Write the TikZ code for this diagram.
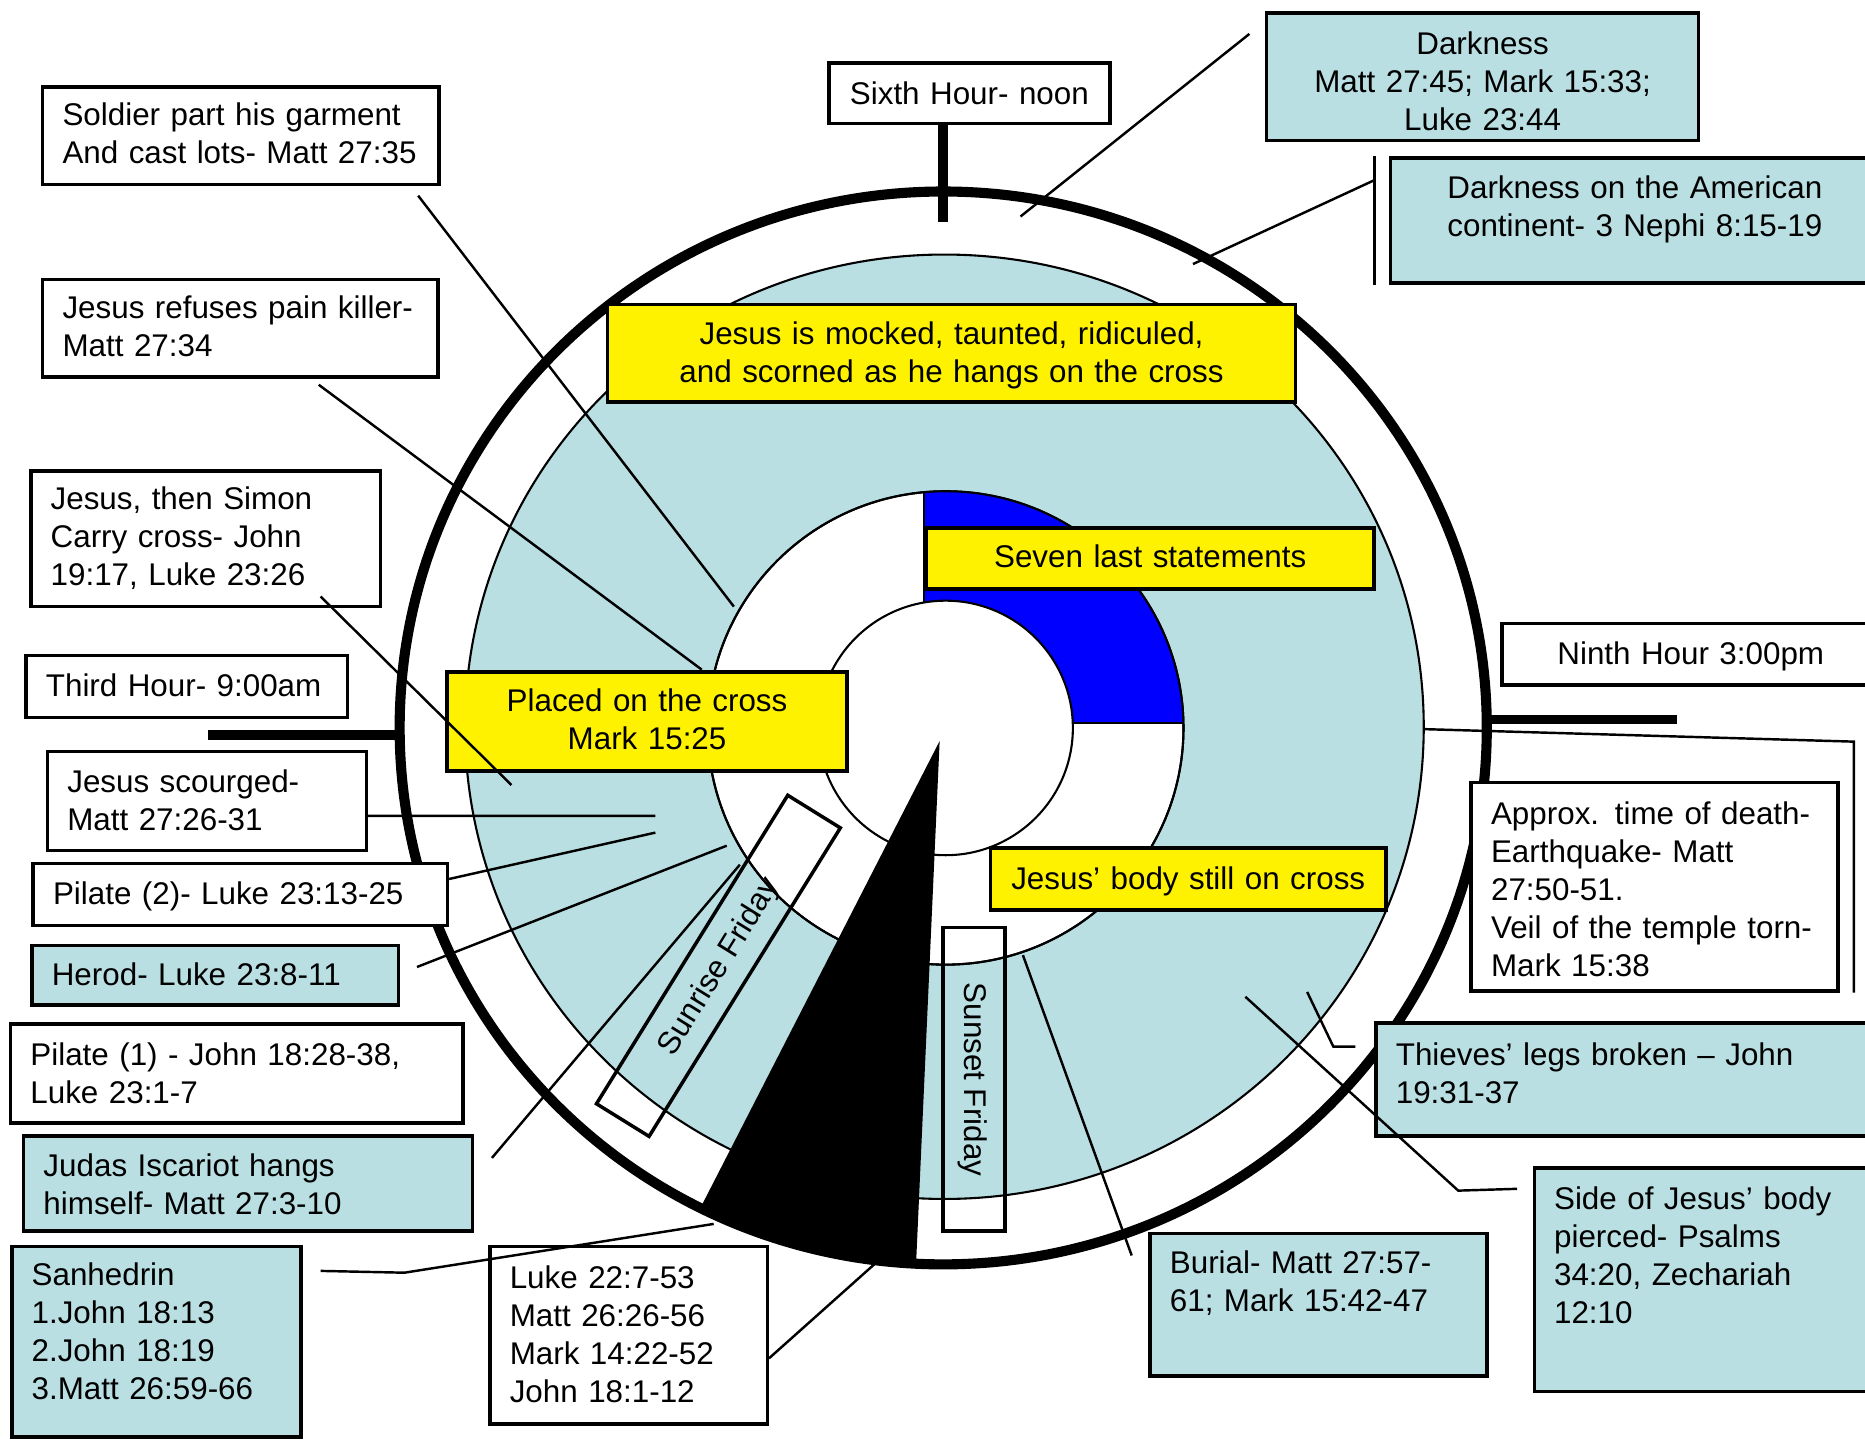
\documentclass[tikz,border=0pt]{standalone}
\usepackage{fontspec}
\setmainfont{Liberation Sans}
\usepackage{pgf,tikz}
\definecolor{ltblue}{HTML}{B9DFE3}

\begin{document}
\begin{tikzpicture}[x=0.012cm,y=-0.012cm]
\tikzstyle{cell}=[rectangle,draw,line width=1pt,fill=white,align=left,inner xsep=0.2cm,inner ysep=0pt,text height=7pt,font=\fontsize{9}{10.9}\selectfont]
\tikzstyle{bcell}=[cell,fill=ltblue]
\tikzstyle{ycell}=[cell,fill=yellow,align=center]
\tikzstyle{dcell}=[rectangle,draw,line width=1pt,inner sep=0pt,minimum height=0.624cm,text height=7pt,text depth=1.2pt,font=\fontsize{9}{10.9}\selectfont]
\tikzstyle{link}=[line width=0.7pt]
\tikzstyle{hourmark}=[line width=2.8pt]

\useasboundingbox (0,0) rectangle (1568,1211) ;
\clip (0,0) rectangle (1568,1211) ;

\draw[line width=2.9pt] (793,612) ellipse [x radius=457,y radius=451] ;
\filldraw[fill=ltblue,line width=0.6pt] (794,611) ellipse [x radius=403,y radius=397] ;
\filldraw[fill=white,line width=0.6pt] (795,612) ellipse [x radius=200,y radius=199] ;
\begin{scope}
\clip (777,300) rectangle (1100,608) ;
\fill[blue,even odd rule] (795,612) ellipse [x radius=200,y radius=199] (795,612) circle [radius=107] ;
\end{scope}
\draw[line width=0.6pt] (795,612) ellipse [x radius=200,y radius=199] ;
\draw[line width=0.6pt] (777,414) -- (777,506) (902,608) -- (995,608) ;
\filldraw[fill=white,line width=0.6pt] (795,612) circle [radius=107] ;
\begin{scope}
\clip (793,612) ellipse [x radius=460,y radius=454] ;
\fill (790,623) -- (542,1107) -- (766,1155) -- cycle ;
\end{scope}

\node[dcell,minimum width=3.66cm,rotate=58.2] (sunrise) at (604,812) {Sunrise Friday} ;
\node[dcell,minimum width=3.06cm,rotate=-90] (sunset) at (819,907.5) {Sunset Friday} ;

\node[ycell,text width=6.536cm,minimum height=0.984cm,text depth=12.1pt] (mocked) at (800,297) {Jesus is mocked, taunted, ridiculed,\\and scorned as he hangs on the cross} ;
\node[ycell,text width=4.112cm,minimum height=0.612cm,text depth=1.54pt] (seven) at (967,469.5) {Seven last statements} ;
\node[ycell,text width=3.632cm,minimum height=0.996cm,text depth=12.46pt] (placed) at (544,606.5) {Placed on the cross\\Mark 15:25} ;
\node[ycell,text width=3.584cm,minimum height=0.624cm,text depth=1.2pt] (body) at (999,739) {Jesus’ body still on cross} ;

\node[cell,text width=2.432cm,minimum height=0.612cm,align=center,text depth=0.85pt] (sixth) at (815,78.5) {Sixth Hour- noon} ;
\node[bcell,text width=3.956cm,minimum height=1.284cm,align=center,text depth=19.97pt] (dark) at (1246.5,64.5) {Darkness\\Matt 27:45; Mark 15:33;\\Luke 23:44} ;
\node[bcell,text width=4.532cm,minimum height=1.26cm,align=center,text depth=19.97pt] (nephi) at (1374.5,185.5) {Darkness on the American\\continent- 3 Nephi 8:15-19} ;
\node[cell,text width=3.404cm,minimum height=0.624cm,align=center,text depth=1.2pt] (ninth) at (1421.5,550) {Ninth Hour 3:00pm} ;
\node[cell,text width=3.296cm,minimum height=2.1cm,text depth=42.5pt] (death) at (1391,745.5) {Approx. time of death-\\Earthquake- Matt\\27:50-51.\\Veil of the temple torn-\\Mark 15:38} ;
\node[bcell,text width=4.676cm,minimum height=1.14cm,text depth=15.19pt] (thieves) at (1368.5,907.5) {Thieves’ legs broken – John\\19:31-37} ;
\node[bcell,text width=3.08cm,minimum height=2.256cm,text depth=47.6pt] (side) at (1435,1076) {Side of Jesus’ body\\pierced- Psalms\\34:20, Zechariah\\12:10} ;
\node[bcell,text width=2.996cm,minimum height=1.44cm,text depth=25.1pt] (burial) at (1108.5,1097) {Burial- Matt 27:57-\\61; Mark 15:42-47} ;
\node[cell,text width=2.396cm,minimum height=1.788cm,text depth=33.6pt] (supper) at (528.5,1122.5) {Luke 22:7-53\\Matt 26:26-56\\Mark 14:22-52\\John 18:1-12} ;

\node[cell,text width=3.596cm,minimum height=0.984cm,text depth=12.8pt] (soldier) at (202.5,114) {Soldier part his garment\\And cast lots- Matt 27:35} ;
\node[cell,text width=3.584cm,minimum height=0.984cm,text depth=12.8pt] (pain) at (202,276) {Jesus refuses pain killer-\\Matt 27:34} ;
\node[cell,text width=3.128cm,minimum height=1.368cm,text depth=23.7pt] (simon) at (173,453) {Jesus, then Simon\\Carry cross- John\\19:17, Luke 23:26} ;
\node[cell,text width=2.84cm,minimum height=0.624cm,text depth=1.2pt] (third) at (157,577) {Third Hour- 9:00am} ;
\node[cell,text width=2.816cm,minimum height=0.996cm,text depth=11.8pt] (scourge) at (174,673.5) {Jesus scourged-\\Matt 27:26-31} ;
\node[cell,text width=3.776cm,minimum height=0.624cm,text depth=1.2pt] (pilate2) at (202,752) {Pilate (2)- Luke 23:13-25} ;
\node[bcell,text width=3.296cm,minimum height=0.6cm,text depth=1.2pt] (herod) at (181,820) {Herod- Luke 23:8-11} ;
\node[cell,text width=4.16cm,minimum height=0.996cm,text depth=11.8pt] (pilate1) at (199,902.5) {Pilate (1) - John 18:28-38,\\Luke 23:1-7} ;
\node[bcell,text width=4.124cm,minimum height=0.96cm,text depth=10.76pt] (judas) at (208.5,995) {Judas Iscariot hangs\\himself- Matt 27:3-10} ;
\node[bcell,text width=2.516cm,minimum height=1.92cm,text depth=39.4pt] (sanhedrin) at (131.5,1128) {Sanhedrin\\1.John 18:13\\2.John 18:19\\3.Matt 26:59-66} ;

\coordinate (t6) at (793,187) ;
\coordinate (t3a) at (175,618) ;
\coordinate (t3b) at (336,618) ;
\coordinate (t9a) at (1252,605) ;
\coordinate (t9b) at (1410,605) ;
\draw[hourmark] ([shift={(-22,0)}]sixth.south) -- (t6) ;
\draw[hourmark] (t3a) -- (t3b) ;
\draw[hourmark] (t9a) -- (t9b) ;

\coordinate (e1) at (617,510) ;
\coordinate (e2) at (590,563) ;
\coordinate (e3) at (430,660) ;
\coordinate (e4) at (551,686) ;
\coordinate (e5) at (551,700) ;
\coordinate (e6) at (611,711) ;
\coordinate (e7) at (622,727) ;
\coordinate (e8) at (600,1029) ;
\coordinate (e9) at (735,1063) ;
\coordinate (e10) at (858,182) ;
\coordinate (e11) at (1003,222) ;
\coordinate (e12) at (1197,613) ;
\coordinate (e13) at (1099,834) ;
\coordinate (e14) at (1047,838) ;
\coordinate (e15) at (860,803) ;

\draw[link] ([shift={(-19,8)}]soldier.south east) -- (e1) ;
\draw[link] ([shift={(66,5)}]pain.south) -- (e2) ;
\draw[link] ([shift={(-52,-10)}]simon.south east) -- (e3) ;
\draw[link] ([shift={(0,12.5)}]scourge.east) -- (e4) ;
\draw[link] ([shift={(0,-13)}]pilate2.east) -- (e5) ;
\draw[link] ([shift={(14,-7)}]herod.east) -- (e6) ;
\draw[link] ([shift={(15,20)}]judas.north east) -- (e7) ;
\draw[link] ([shift={(15,22)}]sanhedrin.north east) -- (340,1070) -- (e8) ;
\draw[link] ([shift={(0,19.5)}]supper.east) -- (e9) ;
\draw[link] ([shift={(-13,19)}]dark.north west) -- (e10) ;
\draw[link] (e11) -- ([shift={(-12,20)}]nephi.north west) ;
\draw[line width=1pt] ([shift={(-12,0)}]nephi.north west) -- ([shift={(-12,0)}]nephi.south west) ;
\draw[link] (e12) -- ([shift={(12,-211)}]death.south east) -- ([shift={(12,0)}]death.south east) ;
\draw[link] (e13) -- (1121,880) -- ([shift={(-16,-27.5)}]thieves.west) ;
\draw[link] (e14) -- (1226,1001) -- ([shift={(-13,19)}]side.north west) ;
\draw[link] (e15) -- ([shift={(-14,20)}]burial.north west) ;

\end{tikzpicture}
\end{document}
